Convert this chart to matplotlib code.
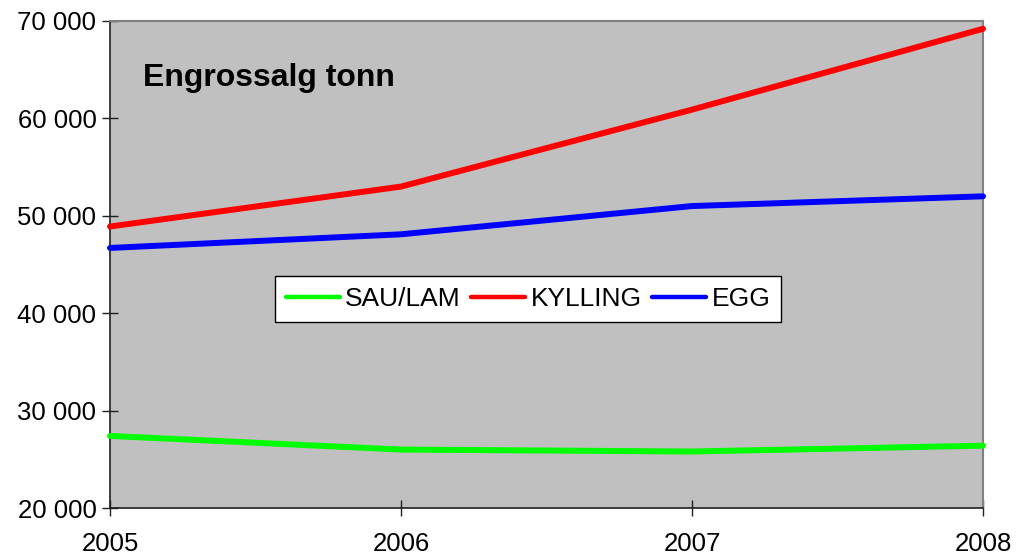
import matplotlib
matplotlib.use("Agg")
import matplotlib.pyplot as plt
from matplotlib.ticker import FuncFormatter

years = [2005, 2006, 2007, 2008]
sau_lam = [27400, 26000, 25800, 26400]
kylling = [48900, 53000, 60900, 69200]
egg = [46700, 48100, 51000, 52000]
series_names = ["SAU/LAM", "KYLLING", "EGG"]
title_text = "Engrossalg tonn"

plt.rcParams['font.family'] = ['Liberation Sans', 'DejaVu Sans']

fig = plt.figure(figsize=(10.16, 5.57), dpi=100)
W, H = 1016, 557
ax = fig.add_axes([110 / W, 1 - 508 / H, (983 - 110) / W, (508 - 21) / H])
ax.set_facecolor("#C0C0C0")

lw = 4.3
ax.plot(years, sau_lam, color="#00FF00", lw=lw, label=series_names[0], solid_capstyle='round', clip_on=False, zorder=3)
ax.plot(years, kylling, color="#FF0000", lw=lw, label=series_names[1], solid_capstyle='round', clip_on=False, zorder=3)
ax.plot(years, egg, color="#0000FF", lw=lw, label=series_names[2], solid_capstyle='round', clip_on=False, zorder=3)

ax.set_xlim(2005, 2008)
ax.set_ylim(20000, 70000)
ax.set_xticks(years)
ax.set_yticks(range(20000, 70001, 10000))
ax.yaxis.set_major_formatter(FuncFormatter(lambda v, p: f"{int(v):,}".replace(",", " ")))

ax.tick_params(axis='both', direction='inout', length=11.5, width=1, color='#202020', labelsize=18.5)
ax.tick_params(axis='y', pad=4)
ax.tick_params(axis='x', pad=11.5)

for s in ['left', 'bottom']:
    ax.spines[s].set_color('#202020')
    ax.spines[s].set_linewidth(1.2)
for s in ['top', 'right']:
    ax.spines[s].set_color('#808080')
    ax.spines[s].set_linewidth(1.5)

ax.text(143 / W, 1 - 78 / H, title_text, transform=fig.transFigure, fontsize=23,
        fontweight='bold', va='center', ha='left')

leg = ax.legend(loc='center', bbox_to_anchor=((278 + 778) / 2 / W, 1 - 299 / H),
                bbox_transform=fig.transFigure, ncol=3, fontsize=19, frameon=True,
                fancybox=False, edgecolor='black', framealpha=1, handlelength=2.05,
                handletextpad=0.2, columnspacing=0.4, borderpad=0.4, borderaxespad=0)
leg.get_frame().set_linewidth(1.0)
for line in leg.get_lines():
    line.set_linewidth(3.2)
    line.set_solid_capstyle('round')

fig.savefig("out.png", dpi=100)
